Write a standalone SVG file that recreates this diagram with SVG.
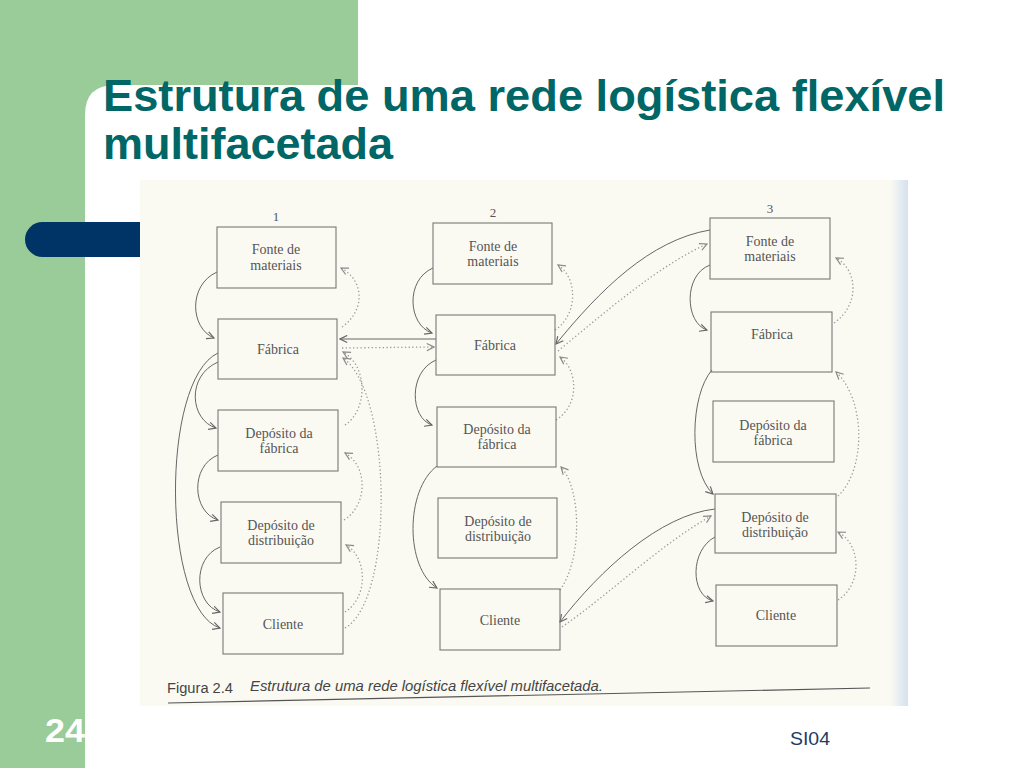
<svg xmlns="http://www.w3.org/2000/svg" width="1024" height="768" viewBox="0 0 1024 768">
<defs>
<linearGradient id="edge" x1="0" y1="0" x2="1" y2="0">
<stop offset="0" stop-color="#fafaf3"/>
<stop offset="1" stop-color="#d5e1ee"/>
</linearGradient>
<marker id="a" viewBox="0 0 10 10" refX="9" refY="5" markerWidth="9" markerHeight="9" markerUnits="userSpaceOnUse" orient="auto">
<path d="M1,1 L9,5 L1,9" fill="none" stroke="#666" stroke-width="1.3"/>
</marker>
<marker id="d" viewBox="0 0 10 10" refX="9" refY="5" markerWidth="9" markerHeight="9" markerUnits="userSpaceOnUse" orient="auto">
<path d="M1,1 L9,5 L1,9" fill="none" stroke="#888" stroke-width="1.3"/>
</marker>
</defs>
<style>
.box{fill:none;stroke:#777;stroke-width:1.1}
.lbl{font-family:"Liberation Serif","DejaVu Serif",serif;font-size:14px;fill:#555;text-anchor:middle}
.num{font-family:"Liberation Serif","DejaVu Serif",serif;font-size:13px;fill:#555;text-anchor:middle}
.s{fill:none;stroke:#666;stroke-width:1;marker-end:url(#a)}
.dt{fill:none;stroke:#999;stroke-width:1.3;stroke-dasharray:1.3,2.4;marker-end:url(#d)}
</style>
<rect x="0" y="0" width="1024" height="768" fill="#ffffff"/>
<g id="background">
<rect x="0" y="0" width="358" height="115" fill="#99cc99"/>
<rect x="0" y="0" width="85" height="768" fill="#99cc99"/>
<path d="M85,768 L85,115 Q85,85 115,85 L358,85 L358,115 L1024,115 L1024,768 Z" fill="#ffffff"/>
<rect x="25" y="222" width="140" height="35" rx="17.5" fill="#003366"/>
</g>
<g id="title" font-family="'Liberation Sans',Arial,sans-serif" font-weight="bold" font-size="45" fill="#006666">
<text x="103" y="111" textLength="842" lengthAdjust="spacingAndGlyphs">Estrutura de uma rede logística flexível</text>
<text x="103" y="159">multifacetada</text>
</g>
<g id="figure-bg">
<rect x="140" y="180" width="768" height="526" fill="#fafaf3"/>
<rect x="890" y="180" width="18" height="526" fill="url(#edge)"/>
</g>
<g id="connectors">
<path class="s" d="M217,272 C188,285 190,328 214,338"/>
<path class="s" d="M218,353 C160,380 162,610 220,628"/>
<path class="s" d="M218,362 C186,376 190,420 216,428"/>
<path class="s" d="M218,455 C190,466 192,512 218,520"/>
<path class="s" d="M220,547 C192,558 194,604 220,612"/>
<path class="dt" d="M342,327 C366,310 364,280 341,268"/>
<path class="dt" d="M345,425 C368,410 368,366 343,352"/>
<path class="dt" d="M345,628 C395,600 392,392 343,358"/>
<path class="dt" d="M344,520 C368,505 368,466 345,453"/>
<path class="dt" d="M345,612 C368,598 368,558 346,545"/>
<path class="s" d="M436,339 L340,339"/>
<path class="dt" d="M342,348 L434,347"/>
<path class="s" d="M433,268 C405,280 408,325 432,333"/>
<path class="s" d="M436,360 C408,372 410,418 432,425"/>
<path class="s" d="M437,466 C405,490 405,568 437,588"/>
<path class="dt" d="M555,330 C578,315 578,278 558,265"/>
<path class="dt" d="M556,420 C580,405 578,370 560,357"/>
<path class="dt" d="M560,590 C582,560 582,490 561,467"/>
<path class="s" d="M710,230 C650,240 600,290 556,344"/>
<path class="dt" d="M558,351 C610,308 660,265 707,244"/>
<path class="s" d="M715,509 C660,515 600,570 560,622"/>
<path class="dt" d="M562,627 C612,592 660,545 711,516"/>
<path class="s" d="M710,265 C683,275 685,323 707,330"/>
<path class="s" d="M712,370 C690,395 688,470 713,494"/>
<path class="s" d="M715,537 C690,550 690,595 713,601"/>
<path class="dt" d="M834,323 C860,305 858,270 836,258"/>
<path class="dt" d="M838,496 C866,470 866,400 836,372"/>
<path class="dt" d="M838,600 C862,585 862,545 838,532"/>
</g>
<g id="col-labels">
<text class="num" x="276" y="221">1</text>
<text class="num" x="493" y="217">2</text>
<text class="num" x="770" y="213">3</text>
</g>
<g id="n1-fonte"><rect class="box" x="217" y="227" width="119" height="61"/><text class="lbl" x="276" y="254">Fonte de</text><text class="lbl" x="276" y="270">materiais</text></g>
<g id="n1-fabrica"><rect class="box" x="218" y="319" width="119" height="60"/><text class="lbl" x="278" y="354">Fábrica</text></g>
<g id="n1-depfab"><rect class="box" x="218" y="410" width="120" height="61"/><text class="lbl" x="279" y="438">Depósito da</text><text class="lbl" x="279" y="453">fábrica</text></g>
<g id="n1-depdist"><rect class="box" x="221" y="502" width="120" height="61"/><text class="lbl" x="281" y="530">Depósito de</text><text class="lbl" x="281" y="545">distribuição</text></g>
<g id="n1-cliente"><rect class="box" x="223" y="593" width="120" height="61"/><text class="lbl" x="283" y="629">Cliente</text></g>
<g id="n2-fonte"><rect class="box" x="433" y="223" width="119" height="61"/><text class="lbl" x="493" y="251">Fonte de</text><text class="lbl" x="493" y="266">materiais</text></g>
<g id="n2-fabrica"><rect class="box" x="436" y="315" width="119" height="60"/><text class="lbl" x="495" y="350">Fábrica</text></g>
<g id="n2-depfab"><rect class="box" x="437" y="407" width="119" height="60"/><text class="lbl" x="497" y="434">Depósito da</text><text class="lbl" x="497" y="449">fábrica</text></g>
<g id="n2-depdist"><rect class="box" x="438" y="498" width="119" height="60"/><text class="lbl" x="498" y="526">Depósito de</text><text class="lbl" x="498" y="541">distribuição</text></g>
<g id="n2-cliente"><rect class="box" x="440" y="589" width="120" height="61"/><text class="lbl" x="500" y="625">Cliente</text></g>
<g id="n3-fonte"><rect class="box" x="710" y="218" width="120" height="61"/><text class="lbl" x="770" y="246">Fonte de</text><text class="lbl" x="770" y="261">materiais</text></g>
<g id="n3-fabrica"><rect class="box" x="711" y="312" width="121" height="60"/><text class="lbl" x="772" y="339">Fábrica</text></g>
<g id="n3-depfab"><rect class="box" x="713" y="401" width="121" height="61"/><text class="lbl" x="773" y="430">Depósito da</text><text class="lbl" x="773" y="445">fábrica</text></g>
<g id="n3-depdist"><rect class="box" x="715" y="494" width="121" height="59"/><text class="lbl" x="775" y="522">Depósito de</text><text class="lbl" x="775" y="537">distribuição</text></g>
<g id="n3-cliente"><rect class="box" x="716" y="585" width="121" height="61"/><text class="lbl" x="776" y="620">Cliente</text></g>
<g id="caption" font-family="'Liberation Sans',Arial,sans-serif" font-size="14" fill="#444">
<text x="167" y="693" textLength="66" lengthAdjust="spacingAndGlyphs">Figura 2.4</text>
<text x="250" y="691" font-style="italic" textLength="353" lengthAdjust="spacingAndGlyphs">Estrutura de uma rede logística flexível multifacetada.</text>
<path d="M168,703 L870,688" stroke="#555" stroke-width="1.2" fill="none"/>
</g>
<g id="footer" font-family="'Liberation Sans',Arial,sans-serif">
<text x="45" y="742" font-size="33" font-weight="bold" fill="#ffffff" textLength="40" lengthAdjust="spacingAndGlyphs">24</text>
<text x="790" y="745" font-size="18" fill="#1f3a66" textLength="40" lengthAdjust="spacingAndGlyphs">SI04</text>
</g>
</svg>
